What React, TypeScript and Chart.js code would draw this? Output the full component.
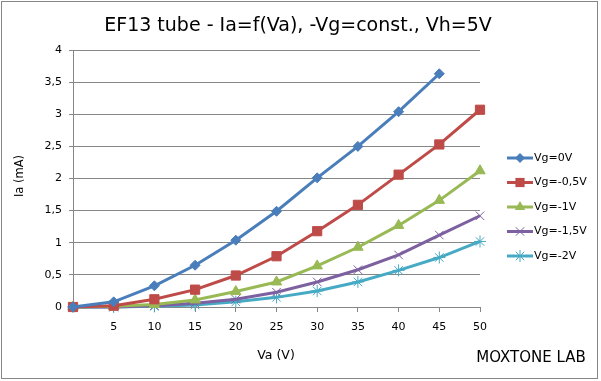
import React, { useEffect, useRef } from 'react';
import { Chart, registerables } from 'chart.js';

Chart.register(...registerables);

const voltages = [0, 5, 10, 15, 20, 25, 30, 35, 40, 45, 50];
const vg0 = [0, 0.08, 0.33, 0.65, 1.04, 1.49, 2.01, 2.5, 3.04, 3.63, null];
const vg05 = [0, 0.02, 0.12, 0.27, 0.49, 0.79, 1.18, 1.59, 2.06, 2.53, 3.07];
const vg1 = [0, 0.01, 0.04, 0.11, 0.24, 0.39, 0.64, 0.93, 1.27, 1.66, 2.12];
const vg15 = [0, 0.0, 0.02, 0.06, 0.12, 0.23, 0.39, 0.58, 0.81, 1.12, 1.42];
const vg2 = [0, 0.0, 0.01, 0.03, 0.08, 0.15, 0.25, 0.39, 0.57, 0.77, 1.02];
const seriesNames = ['Vg=0V', 'Vg=-0,5V', 'Vg=-1V', 'Vg=-1,5V', 'Vg=-2V'];

const titleText = 'EF13 tube - Ia=f(Va), -Vg=const., Vh=5V';
const xTitle = 'Va (V)';
const yTitle = 'Ia (mA)';
const credit = 'MOXTONE LAB';

const FONT = '"DejaVu Sans", sans-serif';
const colors = ['#4A7EBB', '#BE4B48', '#98B954', '#7D60A0', '#46AAC5'];
const styles: any[] = ['rectRot', 'rect', 'triangle', 'crossRot', 'star'];
const radii = [5, 6.5, 6, 6, 6];
const pbw = [1, 1, 1, 1, 1];

function drawMarker(ctx: CanvasRenderingContext2D, style: string, r: number, x: number, y: number) {
  ctx.beginPath();
  if (style === 'rectRot') {
    ctx.moveTo(x, y - r);
    ctx.lineTo(x + r, y);
    ctx.lineTo(x, y + r);
    ctx.lineTo(x - r, y);
    ctx.closePath();
    ctx.fill();
  } else if (style === 'rect') {
    const s = r * Math.SQRT1_2;
    ctx.rect(x - s, y - s, 2 * s, 2 * s);
    ctx.fill();
  } else if (style === 'triangle') {
    ctx.moveTo(x, y - r);
    ctx.lineTo(x + r * 0.87, y + r * 0.5);
    ctx.lineTo(x - r * 0.87, y + r * 0.5);
    ctx.closePath();
    ctx.fill();
  } else if (style === 'crossRot') {
    const s = r * Math.SQRT1_2;
    ctx.moveTo(x - s, y - s);
    ctx.lineTo(x + s, y + s);
    ctx.moveTo(x - s, y + s);
    ctx.lineTo(x + s, y - s);
    ctx.stroke();
  } else {
    const s = r * Math.SQRT1_2;
    ctx.moveTo(x - s, y - s);
    ctx.lineTo(x + s, y + s);
    ctx.moveTo(x - s, y + s);
    ctx.lineTo(x + s, y - s);
    ctx.moveTo(x, y - r);
    ctx.lineTo(x, y + r);
    ctx.stroke();
  }
}

const decorPlugin = {
  id: 'decor',
  beforeDraw(chart: any) {
    const ctx = chart.ctx;
    ctx.save();
    ctx.fillStyle = '#ffffff';
    ctx.fillRect(0, 0, chart.width, chart.height);
    ctx.restore();
  },
  afterDraw(chart: any) {
    const ctx = chart.ctx;
    ctx.save();
    ctx.strokeStyle = '#868686';
    ctx.lineWidth = 1;
    ctx.strokeRect(1.5, 1.5, 596, 377);
    ctx.fillStyle = '#000000';
    ctx.textAlign = 'center';
    ctx.textBaseline = 'alphabetic';
    ctx.font = '19px ' + FONT;
    ctx.fillText(titleText, 298, 31);
    ctx.font = '12.5px ' + FONT;
    ctx.textBaseline = 'middle';
    ctx.fillText(xTitle, 276, 356);
    ctx.save();
    ctx.translate(20, 176);
    ctx.rotate(-Math.PI / 2);
    ctx.font = '11.5px ' + FONT;
    ctx.fillText(yTitle, 0, 0);
    ctx.restore();
    ctx.font = '15px ' + FONT;
    ctx.fillText(credit, 531, 358);
    const ys = [158, 182.5, 207, 231.5, 256];
    ctx.font = '11px ' + FONT;
    ctx.textAlign = 'left';
    chart.data.datasets.forEach((ds: any, i: number) => {
      const y = ys[i];
      ctx.strokeStyle = ds.borderColor;
      ctx.lineWidth = 3;
      ctx.beginPath();
      ctx.moveTo(507, y);
      ctx.lineTo(533, y);
      ctx.stroke();
      ctx.fillStyle = ds.borderColor;
      ctx.strokeStyle = ds.borderColor;
      ctx.lineWidth = 1;
      drawMarker(ctx, styles[i], radii[i], 520, y);
      ctx.fillStyle = '#000000';
      ctx.fillText(ds.label, 534, y);
    });
    ctx.restore();
  },
};

export default function App() {
  const ref = useRef<HTMLCanvasElement>(null);
  useEffect(() => {
    document.body.style.margin = '0';
    const all = [vg0, vg05, vg1, vg15, vg2];
    const chart = new Chart(ref.current!, {
      type: 'line',
      data: {
        datasets: all.map((arr, i) => ({
          label: seriesNames[i],
          data: voltages.map((v, j) => ({ x: v, y: arr[j] as any })),
          borderColor: colors[i],
          backgroundColor: colors[i],
          borderWidth: 3,
          pointStyle: styles[i],
          pointRadius: radii[i],
          pointBorderWidth: pbw[i],
          pointBackgroundColor: colors[i],
          pointBorderColor: colors[i],
          tension: 0,
          spanGaps: false,
          clip: false,
        })),
      },
      options: {
        animation: false,
        responsive: false,
        devicePixelRatio: 1,
        layout: { padding: { left: 0, top: 50, right: 121, bottom: 0 } },
        plugins: { legend: { display: false }, title: { display: false }, tooltip: { enabled: false } },
        scales: {
          x: {
            type: 'linear',
            min: 0,
            max: 50,
            afterFit: (s: any) => { s.height = 74; },
            ticks: {
              stepSize: 5,
              padding: 9,
              color: '#000',
              font: { family: FONT, size: 11 },
              maxRotation: 0,
              callback: (v: any) => (v === 0 ? '' : String(v)),
            },
            grid: { drawOnChartArea: false, drawTicks: true, tickLength: 5, color: '#868686' },
            border: { color: '#868686' },
          },
          y: {
            min: 0,
            max: 4,
            afterFit: (s: any) => { s.width = 73; },
            ticks: {
              stepSize: 0.5,
              padding: 7,
              color: '#000',
              font: { family: FONT, size: 11 },
              callback: (v: any) => String(v).replace('.', ','),
            },
            grid: { color: '#868686', tickLength: 4 },
            border: { color: '#868686' },
          },
        },
      },
      plugins: [decorPlugin],
    } as any);
    return () => chart.destroy();
  }, []);
  return <canvas ref={ref} width={601} height={381} style={{ display: 'block' }} />;
}
